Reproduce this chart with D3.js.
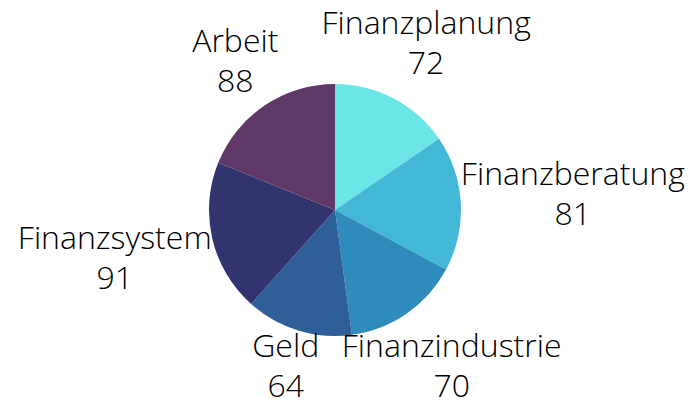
<!DOCTYPE html>
<html><head><meta charset="utf-8">
<script src="https://cdn.jsdelivr.net/npm/d3@7"></script>
<style>html,body{margin:0;padding:0;background:#fff;}svg{display:block;}</style>
</head><body>
<svg id="chart" width="692" height="401"></svg>
<script>
const categories = ["Finanzplanung","Finanzberatung","Finanzindustrie","Geld","Finanzsystem","Arbeit"];
const values = [72,81,70,64,91,88];
const colors = ["#6be5e8","#42b7d6","#2e8bbb","#2e5f98","#31346d","#5e3867"];

const W = 692, H = 401, cx = 335, cy = 210, R = 126;
const svg = d3.select("#chart");
const g = svg.append("g").attr("transform", `translate(${cx},${cy})`);
const data = categories.map((c,i)=>({name:c, value:values[i], color:colors[i]}));
const pie = d3.pie().value(d=>d.value).sort(null);
const arc = d3.arc().innerRadius(0).outerRadius(R);
const arcs = pie(data);
g.selectAll("path.slice").data(arcs).join("path")
  .attr("class","slice").attr("d",arc).attr("fill",d=>d.data.color);

const fs = 32, lh = 40;
const lab = g.selectAll("g.lab").data(arcs).join("g").attr("class","lab");
lab.each(function(d){
  const s = d3.select(this);
  const t = s.append("text").attr("text-anchor","middle")
    .attr("font-family","'Open Sans', sans-serif").attr("font-weight",300)
    .attr("font-size",fs).attr("fill","#000");
  t.append("tspan").attr("x",0).attr("y",0).text(d.data.name);
  t.append("tspan").attr("x",0).attr("y",lh).text(d.data.value);
  const bb = t.node().getBBox();
  const a = (d.startAngle + d.endAngle)/2;
  const sn = Math.sin(a), cs = Math.cos(a);
  const off = -(bb.y + bb.height/2) - 5*Math.abs(sn);
  t.attr("transform",`translate(0,${off})`);
  const dist = 162 + 0.68*Math.abs(sn)*bb.width/2;
  let x = dist*sn, y = -dist*cs;
  // keep the label inside the canvas (top of first line, last baseline)
  const minY = -cy - off - bb.y;
  const maxY = (H - 4 - cy) - lh - off;
  if (y < minY) y = minY;
  if (y > maxY) y = maxY;
  s.attr("transform",`translate(${x},${y})`);
});
</script>
</body></html>
